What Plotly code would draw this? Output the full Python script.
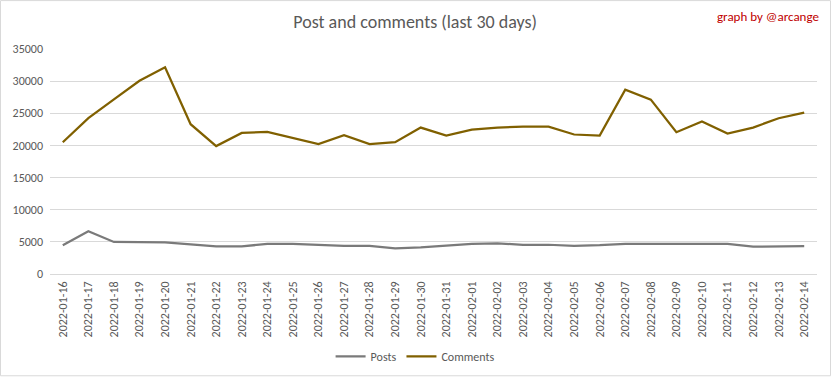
import plotly.graph_objects as go

dates = ["2022-01-16", "2022-01-17", "2022-01-18", "2022-01-19", "2022-01-20", "2022-01-21",
         "2022-01-22", "2022-01-23", "2022-01-24", "2022-01-25", "2022-01-26", "2022-01-27",
         "2022-01-28", "2022-01-29", "2022-01-30", "2022-01-31", "2022-02-01", "2022-02-02",
         "2022-02-03", "2022-02-04", "2022-02-05", "2022-02-06", "2022-02-07", "2022-02-08",
         "2022-02-09", "2022-02-10", "2022-02-11", "2022-02-12", "2022-02-13", "2022-02-14"]

posts = [4470, 6650, 4990, 4990, 4930, 4620, 4310, 4310, 4670, 4670, 4520, 4360,
         4360, 4000, 4130, 4440, 4700, 4750, 4550, 4550, 4390, 4490, 4700, 4700,
         4700, 4700, 4700, 4240, 4240, 4340]

comments = [20500, 24250, 27150, 30050, 32150, 23300, 19900, 21950, 22100, 21150, 20200, 21600,
            20200, 20500, 22780, 21540, 22470, 22780, 22930, 22930, 21700, 21540, 28670, 27120,
            22060, 23710, 21850, 22780, 24230, 25100]

y_ticks = [0, 5000, 10000, 15000, 20000, 25000, 30000, 35000]

FONT = "Carlito, Calibri, 'Liberation Sans Narrow', Lato, sans-serif"
TXT = "#595959"

fig = go.Figure()
fig.add_trace(go.Scatter(x=dates, y=posts, mode="lines", name="Posts",
                         line=dict(color="#7a7a7a", width=2.25)))
fig.add_trace(go.Scatter(x=dates, y=comments, mode="lines", name="Comments",
                         line=dict(color="#806000", width=2.25)))

fig.update_layout(
    width=832, height=378,
    margin=dict(l=50, r=15, t=49, b=103.5, autoexpand=False),
    paper_bgcolor="white", plot_bgcolor="white",
    font=dict(family=FONT, color=TXT, size=12),
    title=dict(text="Post and comments (last 30 days)", x=0.476, xref="paper", xanchor="center",
               y=1 - 22 / 378, yref="container", yanchor="middle",
               font=dict(family=FONT, size=18, color=TXT)),
    showlegend=True,
    legend=dict(orientation="h", x=0.476, xanchor="center", y=-0.366, yanchor="middle",
                font=dict(family=FONT, size=12, color=TXT), itemwidth=30,
                bgcolor="rgba(0,0,0,0)"),
    xaxis=dict(type="category", categoryorder="array", categoryarray=dates,
               range=[-0.5, len(dates) - 0.5], tickangle=-90, showgrid=False,
               showline=False, ticks="", tickfont=dict(family=FONT, size=12, color=TXT),
               ticklabelstandoff=4, zeroline=False),
    yaxis=dict(range=[0, 35000], tickvals=y_ticks, ticktext=[str(v) for v in y_ticks],
               showgrid=True, gridcolor="#d9d9d9", gridwidth=1, zeroline=True,
               zerolinecolor="#d9d9d9", zerolinewidth=1, showline=False, ticks="",
               tickfont=dict(family=FONT, size=12, color=TXT), ticklabelstandoff=6),
    annotations=[dict(text="graph by @arcange", xref="paper", yref="paper",
                      x=1.005, y=1.146, xanchor="right", yanchor="middle", showarrow=False,
                      font=dict(family=FONT, size=13, color="#c00000"))],
    shapes=[dict(type="rect", xref="paper", yref="paper",
                 x0=(0.5 - 50) / 767, x1=(830.5 - 50) / 767,
                 y0=(274.5 - 376.5) / 225.5, y1=1 + (49 - 0.5) / 225.5,
                 line=dict(color="#d9d9d9", width=1), layer="below")],
)

fig.write_html("out.html", config={"displayModeBar": False},
               post_script="document.body.style.margin='0';document.body.style.overflow='hidden';")
